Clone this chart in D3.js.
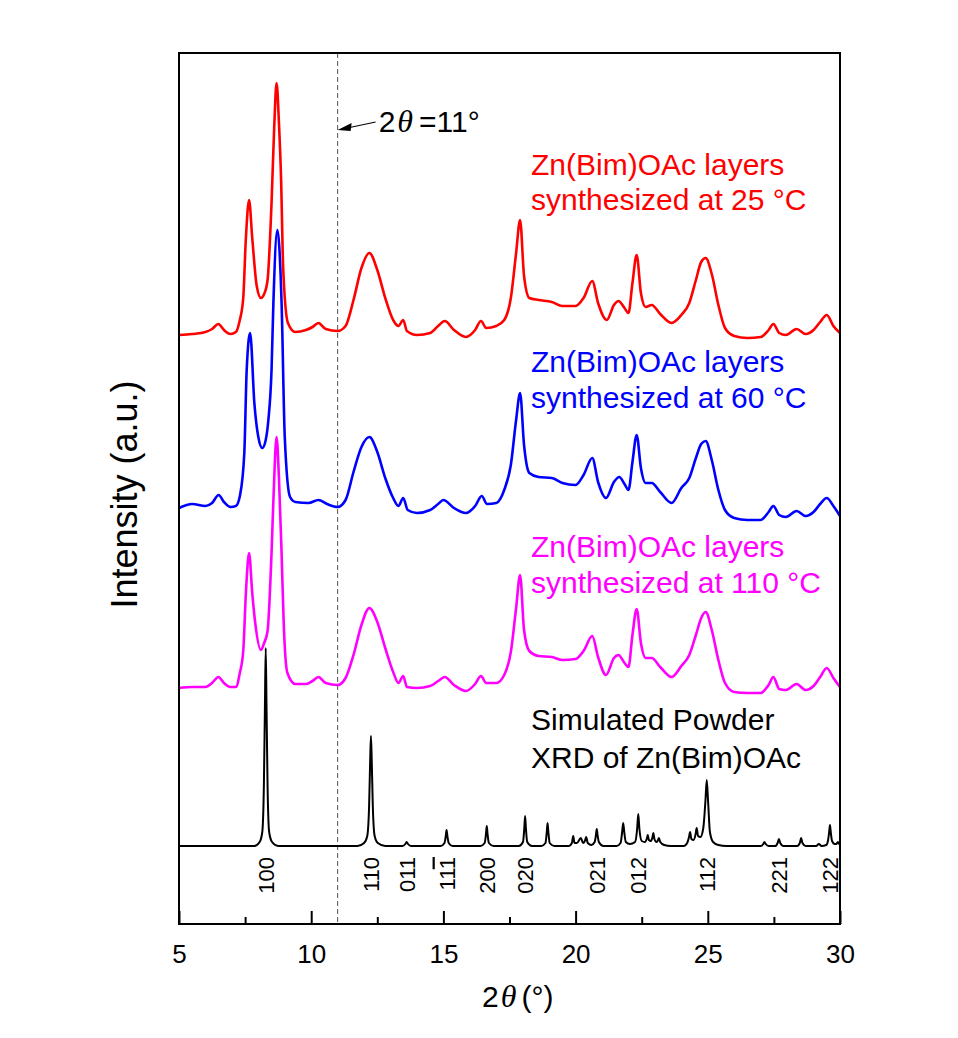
<!DOCTYPE html>
<html>
<head>
<meta charset="utf-8">
<script src="https://cdn.jsdelivr.net/npm/d3@7"></script>
<style>
  html, body { margin: 0; padding: 0; background: #fff; }
  svg { display: block; }
  text { font-family: "Liberation Sans", Arial, sans-serif; }
</style>
</head>
<body>
<div id="chart"></div>
<script>
// ---- Measured PXRD patterns: [2θ (deg), intensity (a.u., above own baseline)] ----
const pattern25C = [
  [5.0,3],[5.5,4],[6.0,6],[6.25,9],[6.49,14],[6.7,8],[6.95,4],[7.15,6],[7.3,18],[7.43,40],[7.53,100],
  [7.65,138],[7.77,100],[7.94,52],[8.1,40],[8.22,44],[8.35,58],[8.5,135],[8.6,210],[8.69,255],[8.78,215],
  [8.86,160],[8.94,70],[9.12,15],[9.4,6],[9.8,8],[10.05,11],[10.27,15],[10.55,9],[11.0,7],[11.3,12],
  [11.6,38],[11.9,70],[12.2,85],[12.5,68],[12.8,40],[13.1,18],[13.3,12],[13.48,18],[13.62,7],[14.0,3],
  [14.5,5],[14.8,12],[15.05,17],[15.4,8],[15.85,1],[16.2,8],[16.42,17],[16.62,10],[17.0,12],[17.3,18],
  [17.55,40],[17.75,85],[17.9,118],[18.05,62],[18.25,40],[18.6,38],[19.1,36],[19.5,32],[20.0,32],[20.3,40],
  [20.63,57],[20.85,35],[21.18,18],[21.45,33],[21.62,37],[21.85,30],[22.0,25],[22.15,55],[22.31,83],
  [22.47,45],[22.65,31],[22.88,33],[23.2,24],[23.63,15],[24.0,23],[24.3,35],[24.55,58],[24.75,76],
  [24.92,80],[25.15,64],[25.4,33],[25.65,10],[26.0,2],[26.5,0],[27.0,1],[27.3,8],[27.48,14],[27.7,5],
  [27.95,3],[28.36,9],[28.7,4],[29.0,8],[29.25,16],[29.5,23],[29.75,12],[30.0,5]
];

const pattern60C = [
  [5.0,12],[5.5,16],[6.0,14],[6.25,17],[6.5,25],[6.7,18],[6.95,13],[7.15,14],[7.31,25],[7.47,67],
  [7.56,150],[7.69,187],[7.85,117],[8.0,83],[8.15,72],[8.28,80],[8.38,100],[8.5,150],[8.57,217],
  [8.72,290],[8.88,217],[9.0,83],[9.2,23],[9.4,18],[9.9,17],[10.27,20],[10.6,16],[11.0,13],[11.3,20],
  [11.6,48],[11.9,73],[12.2,83],[12.5,68],[12.8,42],[13.1,22],[13.3,14],[13.48,22],[13.65,10],[14.0,7],
  [14.5,10],[14.8,16],[15.0,20],[15.4,12],[15.85,7],[16.2,14],[16.45,24],[16.65,16],[17.0,17],[17.3,30],
  [17.55,55],[17.75,100],[17.9,127],[18.05,75],[18.25,47],[18.6,43],[19.1,42],[19.5,37],[20.0,35],
  [20.3,45],[20.63,62],[20.85,38],[21.15,22],[21.45,38],[21.65,43],[21.85,36],[22.0,30],[22.15,58],
  [22.31,85],[22.47,52],[22.65,37],[22.88,37],[23.2,28],[23.63,17],[24.0,32],[24.3,42],[24.55,62],
  [24.75,76],[24.92,79],[25.15,60],[25.4,30],[25.65,10],[26.0,2],[26.5,0],[27.0,0],[27.3,8],[27.48,14],
  [27.7,5],[27.95,3],[28.36,9],[28.7,4],[29.0,8],[29.25,16],[29.5,22],[29.75,14],[30.0,4]
];

const pattern110C = [
  [5.0,5],[5.5,6],[6.0,6],[6.25,10],[6.49,16],[6.7,10],[6.95,6],[7.15,6],[7.3,20],[7.43,42],[7.53,100],
  [7.65,140],[7.77,100],[7.87,73],[8.1,43],[8.22,50],[8.35,62],[8.5,140],[8.58,200],[8.69,256],[8.78,215],
  [8.88,140],[8.96,70],[9.1,20],[9.4,9],[9.8,9],[10.05,12],[10.27,16],[10.55,10],[11.0,8],[11.3,15],
  [11.6,38],[11.9,68],[12.2,85],[12.5,71],[12.8,45],[13.1,21],[13.3,10],[13.48,17],[13.62,6],[14.0,5],
  [14.5,7],[14.8,12],[15.05,16],[15.4,8],[15.85,2],[16.2,9],[16.42,17],[16.62,10],[17.0,10],[17.3,18],
  [17.55,41],[17.75,85],[17.9,118],[18.05,63],[18.25,42],[18.6,37],[19.1,36],[19.5,33],[20.0,34],[20.3,42],
  [20.63,57],[20.85,36],[21.15,18],[21.45,35],[21.62,38],[21.85,30],[22.0,26],[22.15,58],[22.31,84],
  [22.47,50],[22.65,35],[22.88,35],[23.2,26],[23.63,16],[24.0,27],[24.3,38],[24.55,58],[24.75,75],
  [24.92,81],[25.15,63],[25.4,33],[25.65,10],[26.0,1],[26.5,0],[27.0,0],[27.3,8],[27.48,16],[27.7,4],
  [27.95,3],[28.36,9],[28.7,3],[29.0,7],[29.25,16],[29.5,25],[29.75,15],[30.0,6]
];

// Simulated powder pattern of Zn(Bim)OAc
const simulated = [
  [5.0,0],[7.85,0],[8.05,4],[8.15,14],[8.21,60],[8.25,140],[8.28,198],[8.31,140],[8.35,60],[8.41,14],[8.52,4],[8.75,0],
  [11.75,0],[12.0,3],[12.12,10],[12.19,40],[12.23,85],[12.26,110],[12.29,85],[12.33,40],[12.4,10],[12.52,3],[12.8,0],
  [13.45,0],[13.56,2],[13.61,4],[13.66,2],[13.78,0],
  [14.9,0],[15.04,3],[15.09,10],[15.12,16],[15.15,10],[15.2,3],[15.35,0],
  [16.4,0],[16.56,3],[16.61,12],[16.64,20],[16.67,12],[16.72,3],[16.9,0],
  [17.85,0],[18.01,4],[18.06,18],[18.09,30],[18.12,18],[18.17,4],[18.35,0],
  [18.7,0],[18.86,3],[18.91,14],[18.94,23],[18.97,14],[19.02,3],[19.2,0],
  [19.75,0],[19.86,3],[19.91,10],[19.96,3],[20.05,3],[20.2,8],[20.28,3],[20.35,5],[20.4,9],[20.46,3],
  [20.6,1],[20.72,4],[20.77,11],[20.8,17],[20.83,11],[20.88,4],[21.05,0],
  [21.55,0],[21.7,3],[21.76,14],[21.8,23],[21.84,14],[21.9,4],[22.05,2],[22.25,4],[22.33,18],[22.37,32],
  [22.41,18],[22.5,5],[22.62,4],[22.7,8],[22.73,11],[22.77,6],[22.85,5],[22.91,9],[22.94,13],[22.98,7],
  [23.06,4],[23.12,6],[23.15,8],[23.2,4],[23.35,1],[23.6,0],
  [24.1,0],[24.22,3],[24.29,9],[24.33,14],[24.38,7],[24.46,6],[24.54,12],[24.58,18],[24.63,10],[24.72,9],
  [24.83,18],[24.91,45],[24.96,66],[25.01,45],[25.08,14],[25.2,4],[25.4,1],[25.7,0],
  [27.0,0],[27.1,2],[27.14,4],[27.19,2],[27.3,0],
  [27.55,0],[27.64,3],[27.69,7],[27.74,3],[27.85,0],
  [28.38,0],[28.48,3],[28.53,8],[28.58,3],[28.7,0],
  [29.1,0],[29.2,2],[29.3,0],[29.48,1],[29.55,6],[29.59,14],[29.62,21],[29.65,14],[29.7,5],[29.8,2],
  [29.86,2],[29.92,4],[29.97,2],[30.0,1]
];

// Vertical offsets of each stacked pattern (a.u.)
const seriesNames   = ["sim", "110C", "60C", "25C"];
const seriesOffsets = [78, 231, 404, 586];
const seriesColors  = ["#000000", "#ff00ff", "#0000ff", "#ff0000"];
const seriesData    = [simulated, pattern110C, pattern60C, pattern25C];

// Series captions (two lines each)
const captionLines = [
  ["Simulated Powder", "XRD of Zn(Bim)OAc"],
  ["Zn(Bim)OAc layers", "synthesized at 110 \u00B0C"],
  ["Zn(Bim)OAc layers", "synthesized at 60 \u00B0C"],
  ["Zn(Bim)OAc layers", "synthesized at 25 \u00B0C"]
];
const captionBaselines = [730, 557, 372, 175];
const captionSpacing   = [38, 36, 36, 35];

// Miller indices of the main simulated reflections
const hklPositions = [8.28, 12.26, 13.61, 15.12, 16.64, 18.09, 20.80, 22.37, 24.96, 27.69, 29.62];
const hklLabels    = ["100", "110", "011", "11\u0304", "200", "020", "021", "012", "112", "221", "122"];

// Axis ticks
const majorTicks = [5, 10, 15, 20, 25, 30];
const minorTicks = [7.5, 12.5, 17.5, 22.5, 27.5];
const markerAngle = 11;

// ---- Layout ----
const W = 958, H = 1038;
const box = { left: 179, right: 840, top: 53, bottom: 924 };

const svg = d3.select("#chart").append("svg")
  .attr("width", W).attr("height", H);

const x = d3.scaleLinear().domain([5, 30]).range([box.left, box.right]);
const y = d3.scaleLinear().domain([0, box.bottom - box.top]).range([box.bottom, box.top]);

// Reference line at 2θ = 11°
svg.append("line")
  .attr("x1", x(markerAngle)).attr("x2", x(markerAngle))
  .attr("y1", box.top).attr("y2", box.bottom)
  .attr("stroke", "#555").attr("stroke-width", 1)
  .attr("stroke-dasharray", "5,3");

// Patterns
const line = d3.line().curve(d3.curveMonotoneX);
seriesData.forEach((data, i) => {
  const off = seriesOffsets[i];
  line.x(d => x(d[0])).y(d => y(d[1] + off));
  svg.append("path")
    .datum(data)
    .attr("class", "pattern-" + seriesNames[i])
    .attr("fill", "none")
    .attr("stroke", seriesColors[i])
    .attr("stroke-width", i === 0 ? 2 : 2.6)
    .attr("stroke-linejoin", "round")
    .attr("d", line);
});

// Captions
captionLines.forEach((lines, i) => {
  const t = svg.append("text")
    .attr("x", 531)
    .attr("font-size", 30)
    .attr("fill", seriesColors[i]);
  lines.forEach((s, k) => {
    t.append("tspan").attr("x", 531)
      .attr("y", captionBaselines[i] + k * captionSpacing[i])
      .text(s);
  });
});

// hkl labels (rotated)
const hklG = svg.append("g");
hklPositions.forEach((p, i) => {
  const lbl = hklLabels[i];
  const tx = x(p) + 8, ty = 857;
  const t = hklG.append("text")
    .attr("transform", `translate(${tx},${ty}) rotate(-90)`)
    .attr("text-anchor", "end")
    .attr("font-size", 22)
    .attr("fill", "#000");
  if (lbl.indexOf("\u0304") >= 0) {
    t.append("tspan").text("11");
    t.append("tspan").style("text-decoration", "overline").text("1");
  } else {
    t.text(lbl);
  }
});

// Bottom axis with inward ticks
const axisMajor = d3.axisBottom(x).tickValues(majorTicks)
  .tickSizeInner(-13).tickSizeOuter(0).tickPadding(21)
  .tickFormat(d3.format("d"));
const gMajor = svg.append("g").attr("transform", `translate(0,${box.bottom})`).call(axisMajor);
gMajor.select(".domain").remove();
gMajor.selectAll(".tick line").attr("stroke", "#000").attr("stroke-width", 2);
gMajor.selectAll(".tick text")
  .attr("font-size", 26).attr("fill", "#000")
  .attr("font-family", "'Liberation Sans', Arial, sans-serif");

const axisMinor = d3.axisBottom(x).tickValues(minorTicks)
  .tickSizeInner(-7).tickSizeOuter(0).tickFormat("");
const gMinor = svg.append("g").attr("transform", `translate(0,${box.bottom})`).call(axisMinor);
gMinor.select(".domain").remove();
gMinor.selectAll(".tick line").attr("stroke", "#000").attr("stroke-width", 2);

// Frame
svg.append("rect")
  .attr("x", box.left).attr("y", box.top)
  .attr("width", box.right - box.left).attr("height", box.bottom - box.top)
  .attr("fill", "none").attr("stroke", "#000").attr("stroke-width", 2);

// Axis titles
const xTitle = svg.append("text")
  .attr("x", 482).attr("y", 1007)
  .attr("font-size", 30).attr("fill", "#000");
xTitle.append("tspan").text("2");
xTitle.append("tspan").attr("dx", 2).attr("font-style", "italic").attr("font-size", 32)
  .attr("font-family", "'Liberation Serif', 'Times New Roman', serif").text("\u03B8");
xTitle.append("tspan").attr("dx", 5).text("(\u00B0)");

svg.append("text")
  .attr("transform", `translate(137,${(box.top + box.bottom) / 2 + 6}) rotate(-90)`)
  .attr("text-anchor", "middle")
  .attr("font-size", 36).attr("fill", "#000")
  .text("Intensity (a.u.)");

// Annotation for the 11° marker
const tipX = x(markerAngle), tipY = 130;
svg.append("line")
  .attr("x1", tipX + 12).attr("y1", tipY - 2.5)
  .attr("x2", tipX + 38).attr("y2", tipY - 8)
  .attr("stroke", "#000").attr("stroke-width", 1.2);
svg.append("path")
  .attr("d", `M${tipX},${tipY} L${tipX + 14},${tipY - 7} L${tipX + 13},${tipY + 1} Z`)
  .attr("fill", "#000");
const ann = svg.append("text")
  .attr("x", tipX + 41).attr("y", 132)
  .attr("font-size", 30).attr("fill", "#000");
ann.append("tspan").text("2");
ann.append("tspan").attr("dx", 2).attr("font-style", "italic").attr("font-size", 32)
  .attr("font-family", "'Liberation Serif', 'Times New Roman', serif").text("\u03B8");
ann.append("tspan").attr("dx", 6).text("=11\u00B0");
</script>
</body>
</html>
